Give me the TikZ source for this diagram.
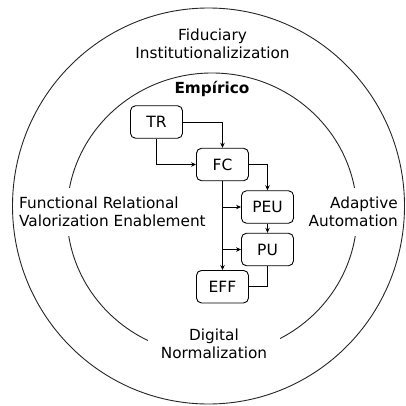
\documentclass[tikz,border=0pt]{standalone}
\usepackage{fontspec}
\setmainfont{DejaVu Sans}
\usetikzlibrary{arrows.meta}
\begin{document}
\begin{tikzpicture}[x=1pt,y=-1pt,
 ring/.style={draw=black!85, line width=0.9pt},
 stepbox/.style={draw, rounded corners=5pt, minimum width=52pt, minimum height=32.5pt, line width=0.9pt, font=\fontsize{15.5}{18}\selectfont, inner sep=0pt},
 lbl/.style={font=\fontsize{15.3}{18.3}\selectfont, inner xsep=3pt, inner ysep=9pt},
 conn/.style={line width=0.8pt, -{Stealth[length=5pt,width=4.5pt]}},
 plain/.style={line width=0.8pt},
]
\useasboundingbox (0,0) rectangle (405,406);
\fill[white] (0,0) rectangle (405,406);
\draw[ring] (208.5,206) ellipse [x radius=196, y radius=198];
\draw[ring] (212,214) ellipse [x radius=145, y radius=141];

\node[lbl, align=center] (fid) at (212.5,43.5) {Fiduciary\\Institutionalizization};
\node[lbl, font=\fontsize{15.3}{18}\selectfont\bfseries, anchor=base] (emp) at (212,94) {Empírico};
\node[lbl, fill=white, align=left, anchor=west] (fun) at (16,212) {Functional Relational\\Valorization Enablement};
\node[lbl, fill=white, align=right, anchor=east] (ada) at (401,212) {Adaptive\\Automation};
\node[lbl, fill=white, align=center, inner xsep=13pt] (dig) at (214,344) {Digital\\Normalization};

\node[stepbox] (TR) at (156.5,122) {TR};
\node[stepbox] (FC) at (222.5,164.5) {FC};
\node[stepbox] (PEU) at (267.5,207) {PEU};
\node[stepbox] (PU) at (267.5,249.5) {PU};
\node[stepbox] (EFF) at (222.5,286.7) {EFF};

\coordinate (b1) at (FC.south |- PEU.west);
\coordinate (b2) at (FC.south |- PU.west);
\draw[conn] (TR.east) -| (FC.north);
\draw[conn] (TR.south) |- (FC.west);
\draw[conn] (FC.east) -| (PEU.north);
\draw[conn] (FC.south) -- (EFF.north);
\draw[conn] (b1) -- (PEU.west);
\draw[conn] (b2) -- (PU.west);
\draw[conn] (PEU.south) -- (PU.north);
\draw[plain] (PU.south) |- (EFF.east);
\end{tikzpicture}
\end{document}
